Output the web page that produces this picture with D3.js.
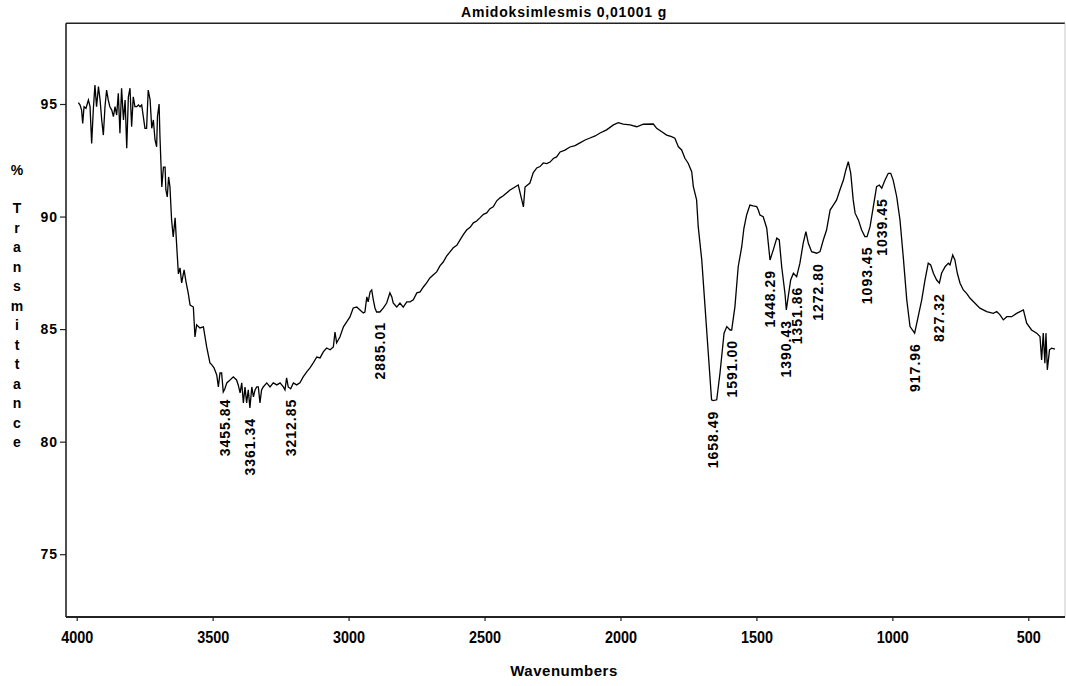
<!DOCTYPE html>
<html>
<head>
<meta charset="utf-8">
<script src="https://cdn.jsdelivr.net/npm/d3@7/dist/d3.min.js"></script>
<style>
  html, body { margin: 0; padding: 0; background: #fff; }
  svg text { font-family: "Liberation Sans", Arial, sans-serif; font-weight: bold; fill: #000; }
</style>
</head>
<body>
<svg id="chart" width="1066" height="686"></svg>
<script>
const chartTitle = "Amidoksimlesmis 0,01001 g";
const xAxisTitle = "Wavenumbers";
const yAxisTitle = ["%", "", "T", "r", "a", "n", "s", "m", "i", "t", "t", "a", "n", "c", "e"];

const xTicks = [4000, 3500, 3000, 2500, 2000, 1500, 1000, 500];
const yTicks = [75, 80, 85, 90, 95];

const wavenumbers = [
  3994,3988,3982,3978,3973,3966,3957,3951,3945,3939,3933,3927,3920,3914,3908,3902,3896,3890,3884,3878,
  3871,3865,3859,3853,3847,3841,3835,3828,3822,3816,3810,3804,3798,3792,3786,3779,3773,3767,3761,3755,
  3749,3743,3737,3730,3724,3718,3712,3706,3703,3697,3694,
  3687,3681,3675,3672,3667,3662,3657,3651,3645,3638,3632,3626,3620,3614,3605,3598,3590,3583,3571,3565,
  3559,3547,3534,3522,3510,3503,3495,3485,3479,3473,3467,3461,3455,3448,3436,3424,3412,3406,3399,3393,
  3387,3381,3375,3369,3363,3356,3350,3344,3338,3332,3326,3320,3314,3301,3289,3277,3264,3252,3240,3234,
  3228,3222,3213,3203,3191,3179,3167,3154,3142,3130,3117,3105,3093,3081,3068,3056,3050,3044,3032,3019,
  3007,2995,2983,2970,2958,2946,2940,2933,2928,2921,2915,2909,2903,2897,2885,2872,2860,2848,2841,2836,
  2823,2811,2799,2786,2774,2762,2749,2737,2725,2713,2701,2688,2676,2664,2652,2639,2627,2615,2602,2590,
  2578,2566,2553,2541,2529,2517,2504,2492,2480,2468,2455,2443,2431,2419,2406,2394,2376,2363,2357,2351,
  2333,2321,2308,2296,2284,2271,2259,2247,2235,2222,2204,2186,2167,2149,2130,2112,2093,2075,2051,2026,
  2008,1990,1965,1940,1916,1879,1867,1848,1830,1812,1800,1787,1775,1763,1751,1738,
  1732,1720,1714,1701,1689,1677,1665,1659,1646,1634,1619,1609,1597,1591,1579,1567,1554,1546,1536,1524,
  1512,1499,1493,1487,1475,1462,1450,1438,1425,1416,1407,1395,1390,1383,1374,1364,1352,1340,1328,1318,
  1309,1297,1278,1266,1254,1242,1229,1217,1205,1193,1180,1171,1162,1153,1144,1137,1125,1113,1101,1093,
  1082,1070,1058,1048,1039,1027,1015,1006,997,984,972,960,947,935,918,905,892,880,868,859,
  849,837,827,819,806,794,788,778,770,761,751,739,727,714,696,678,653,629,616,604,
  592,579,561,543,518,506,488,469,457,451,445,439,435,430,422,414,402
];

const transmittance = [
  95.06,94.96,94.73,94.14,94.88,94.81,95.18,94.88,93.25,94.73,95.84,94.88,95.77,95.18,94.29,93.62,94.88,95.62,95.18,94.88,
  94.73,94.44,94.88,94.51,95.48,93.70,95.70,94.29,95.18,93.03,95.32,95.70,93.99,95.32,94.88,94.88,94.96,94.88,94.96,94.44,
  93.92,93.92,95.62,95.18,93.92,94.29,93.40,93.10,94.44,95.00,93.62,
  91.31,92.20,92.20,91.18,90.87,91.76,91.31,89.85,89.09,89.94,88.65,87.45,87.72,87.05,87.63,87.10,86.61,86.07,85.98,84.65,
  85.19,85.05,85.10,84.21,83.50,83.41,83.28,82.96,82.43,83.05,83.05,82.21,82.35,82.61,82.74,82.88,82.74,82.52,82.17,82.61,
  81.72,82.43,81.72,82.30,81.50,82.43,81.99,82.30,82.43,82.43,81.72,82.30,82.43,82.61,82.43,82.61,82.52,82.61,82.43,82.30,
  82.83,82.43,82.35,82.61,82.52,82.61,82.88,83.10,83.28,83.50,83.76,83.72,83.99,84.16,84.08,84.21,84.87,84.39,84.65,85.10,
  85.32,85.54,85.94,85.98,85.85,85.72,85.76,86.43,86.21,86.65,86.74,86.30,85.94,85.76,85.76,85.94,86.16,86.61,86.43,86.16,
  85.98,86.16,85.98,86.21,86.21,86.30,86.61,86.65,86.87,87.05,87.27,87.41,87.54,87.81,87.98,88.25,88.43,88.61,88.72,88.96,
  89.20,89.40,89.52,89.72,89.80,89.94,90.10,90.16,90.35,90.43,90.70,90.83,90.92,91.05,91.18,91.27,91.40,90.74,90.43,91.31,
  91.49,91.94,92.16,92.22,92.38,92.35,92.42,92.58,92.65,92.87,92.95,93.09,93.15,93.27,93.40,93.49,93.58,93.71,93.85,94.07,
  94.17,94.11,94.07,93.99,94.10,94.11,93.92,93.77,93.62,93.55,93.48,93.10,92.96,92.59,92.37,91.99,
  91.33,90.74,89.55,88.07,86.00,83.93,81.86,81.82,81.86,83.04,84.82,85.11,84.96,84.96,86.00,87.77,88.66,89.48,90.07,90.51,
  90.47,90.44,90.29,90.07,89.99,89.48,88.07,88.52,89.04,88.96,87.77,86.59,85.85,86.44,87.18,87.48,87.33,87.93,88.81,89.33,
  88.81,88.44,88.37,88.44,88.96,89.40,90.29,90.51,90.74,91.18,91.62,92.07,92.44,91.92,90.74,90.15,89.85,89.40,89.11,89.11,
  89.55,90.44,91.33,91.40,91.26,91.62,91.92,91.92,91.62,90.88,89.85,88.22,86.30,85.11,84.82,85.55,86.30,87.18,87.93,87.85,
  87.48,87.18,87.04,87.48,87.77,87.93,87.85,88.29,88.07,87.48,87.04,86.74,86.59,86.37,86.15,85.93,85.78,85.70,85.78,85.63,
  85.41,85.55,85.55,85.70,85.85,85.26,84.96,84.82,84.67,83.63,84.82,83.48,84.82,83.19,84.08,84.15,84.11
];

const peakWavenumbers = [3455.84, 3361.34, 3212.85, 2885.01, 1658.49, 1591.00, 1448.29, 1390.43, 1351.86, 1272.80, 1093.45, 1039.45, 917.96, 827.32];
const peakLabels = ["3455.84", "3361.34", "3212.85", "2885.01", "1658.49", "1591.00", "1448.29", "1390.43", "1351.86", "1272.80", "1093.45", "1039.45", "917.96", "827.32"];
const peakTransmittance = [82.35, 81.50, 82.35, 85.76, 81.82, 84.96, 88.07, 85.85, 87.33, 88.37, 89.11, 91.26, 84.82, 87.04];

const svg = d3.select("#chart");
const plot = { left: 66, right: 1065, top: 23.3, bottom: 617 };

const x = d3.scaleLinear().domain([4039.4, 365]).range([plot.left, plot.right]);
const y = d3.scaleLinear().domain([72.21, 98.585]).range([plot.bottom, plot.top]);

// Frame
svg.append("line").attr("x1", plot.left).attr("x2", plot.right).attr("y1", plot.top).attr("y2", plot.top)
  .attr("stroke", "#222").attr("stroke-width", 1.6);
svg.append("line").attr("x1", plot.right).attr("x2", plot.right).attr("y1", plot.top).attr("y2", plot.bottom)
  .attr("stroke", "#c8c8c8").attr("stroke-width", 1);
svg.append("line").attr("x1", plot.left).attr("x2", plot.left).attr("y1", plot.top).attr("y2", plot.bottom)
  .attr("stroke", "#222").attr("stroke-width", 1.6);
svg.append("line").attr("x1", plot.left).attr("x2", plot.right).attr("y1", plot.bottom).attr("y2", plot.bottom)
  .attr("stroke", "#222").attr("stroke-width", 2);

// X axis
const xAxis = svg.append("g").attr("transform", `translate(0,${plot.bottom})`)
  .call(d3.axisBottom(x).tickValues(xTicks).tickSize(4).tickSizeOuter(0).tickPadding(11).tickFormat(d3.format("d")));
xAxis.select(".domain").remove();
xAxis.selectAll(".tick line").attr("stroke", "#222").attr("stroke-width", 1.2);
xAxis.selectAll(".tick text").attr("font-size", 16).attr("font-family", "Liberation Sans, Arial, sans-serif")
  .attr("font-weight", "bold").attr("fill", "#000").attr("transform", "scale(0.9,1)");

// Y axis
const yAxis = svg.append("g").attr("transform", `translate(${plot.left},0)`)
  .call(d3.axisLeft(y).tickValues(yTicks).tickSize(6).tickSizeOuter(0).tickPadding(2).tickFormat(d3.format("d")));
yAxis.select(".domain").remove();
yAxis.selectAll(".tick line").attr("stroke", "#222").attr("stroke-width", 1.2);
yAxis.selectAll(".tick text").attr("font-size", 14).attr("font-family", "Liberation Sans, Arial, sans-serif")
  .attr("font-weight", "bold").attr("fill", "#000").attr("letter-spacing", 1);

// Spectrum line
const data = wavenumbers.map((w, i) => ({ w, t: transmittance[i] }));
svg.append("path").datum(data)
  .attr("fill", "none").attr("stroke", "#000").attr("stroke-width", 1.3).attr("stroke-linejoin", "miter")
  .attr("d", d3.line().x(d => x(d.w)).y(d => y(d.t)));

// Peak labels
peakWavenumbers.forEach((w, i) => {
  const px = x(w) + 5;
  const py = y(peakTransmittance[i]) + 10;
  svg.append("text")
    .attr("transform", `translate(${px},${py}) rotate(-90)`)
    .attr("text-anchor", "end")
    .attr("font-size", 14)
    .attr("letter-spacing", 1)
    .text(peakLabels[i]);
});

// Title
svg.append("text").attr("x", 564).attr("y", 17).attr("text-anchor", "middle")
  .attr("font-size", 14).attr("letter-spacing", 0.8).text(chartTitle);

// X axis title
svg.append("text").attr("x", 564).attr("y", 676).attr("text-anchor", "middle")
  .attr("font-size", 15).attr("letter-spacing", 0.5).text(xAxisTitle);

// Y axis title (stacked letters)
yAxisTitle.forEach((ch, i) => {
  if (!ch) return;
  const by = i === 0 ? 175 : 213 + (i - 2) * 19.5;
  svg.append("text").attr("x", 17).attr("y", by).attr("text-anchor", "middle")
    .attr("font-size", 14).text(ch);
});
</script>
</body>
</html>
